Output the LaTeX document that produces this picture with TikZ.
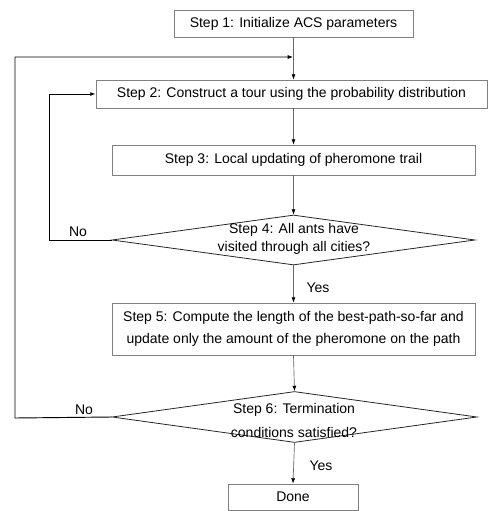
\documentclass[tikz,border=0pt]{standalone}
\usepackage{fontspec}
\setmainfont{Liberation Sans}
\usetikzlibrary{arrows.meta,shapes.geometric}

\begin{document}
\begin{tikzpicture}[x=0.75pt, y=-0.75pt,
  stepbox/.style={draw=black!50, line width=0.6pt, inner sep=0pt, align=center,
    font=\fontsize{10.5}{16.5}\selectfont},
  decision/.style={diamond, draw=black!85, line width=0.6pt, inner sep=0pt},
  asklabel/.style={align=center, inner sep=0pt, font=\fontsize{10.5}{13.5}\selectfont},
  answer/.style={inner sep=0pt, font=\fontsize{10.5}{12}\selectfont},
  flow/.style={black!60, line width=0.5pt, -{Latex[length=4pt,width=3pt,black]}},
  back/.style={black, line width=0.7pt, -{Latex[length=4pt,width=3pt]}}]
\path[use as bounding box] (0,0) rectangle (488,511);
% steps
\node[stepbox, minimum width=179.25pt, minimum height=20.25pt] (s1) at (293.5,23.5) {Step 1: Initialize ACS parameters};
\node[stepbox, minimum width=293.25pt, minimum height=21pt] (s2) at (291.5,94) {Step 2: Construct a tour using the probability distribution};
\node[stepbox, minimum width=272.25pt, minimum height=22.5pt] (s3) at (293.5,160) {Step 3: Local updating of pheromone trail};
\node[decision, minimum width=272.25pt, minimum height=37.5pt] (d4) at (293.5,240) {};
\node[asklabel] (d4txt) at (294,239) {Step 4: All ants have\\visited through all cities?};
\node[stepbox, minimum width=272.25pt, minimum height=39pt] (s5) at (293.5,329) {Step 5: Compute the length of the best-path-so-far and\\update only the amount of the pheromone on the path};
\node[decision, minimum width=273.75pt, minimum height=38.25pt] (d6) at (294.5,417) {};
\node[asklabel, font=\fontsize{10.5}{18}\selectfont] (d6txt) at (294,420) {Step 6: Termination\\conditions satisfied?};
\node[stepbox, minimum width=97.5pt, minimum height=19.5pt] (done) at (293,497) {Done};
% answers
\node[answer] (no4) at (78,232) {No};
\node[answer] (yes4) at (318,288) {Yes};
\node[answer] (no6) at (84,410) {No};
\node[answer] (yes6) at (321,466) {Yes};
% corners of the loops
\coordinate (m1) at (293,57);
\coordinate (c4) at (49,240);
\coordinate (c6) at (15,418);
% main flow
\draw[flow] (s1.south) -- (s1.south |- s2.north);
\draw[flow] (s3.north |- s2.south) -- (s3.north);
\draw[flow] (s3.south) -- (d4.north);
\draw[flow] (d4.south) -- (s5.north);
\draw[flow] (s5.south) -- (d6.north);
\draw[flow] (d6.south) -- (done.north);
% loops back
\draw[back] (d4.west) -- (c4) |- (s2.west);
\draw[back] (d6.west) -- (c6) |- (m1);
\end{tikzpicture}
\end{document}
